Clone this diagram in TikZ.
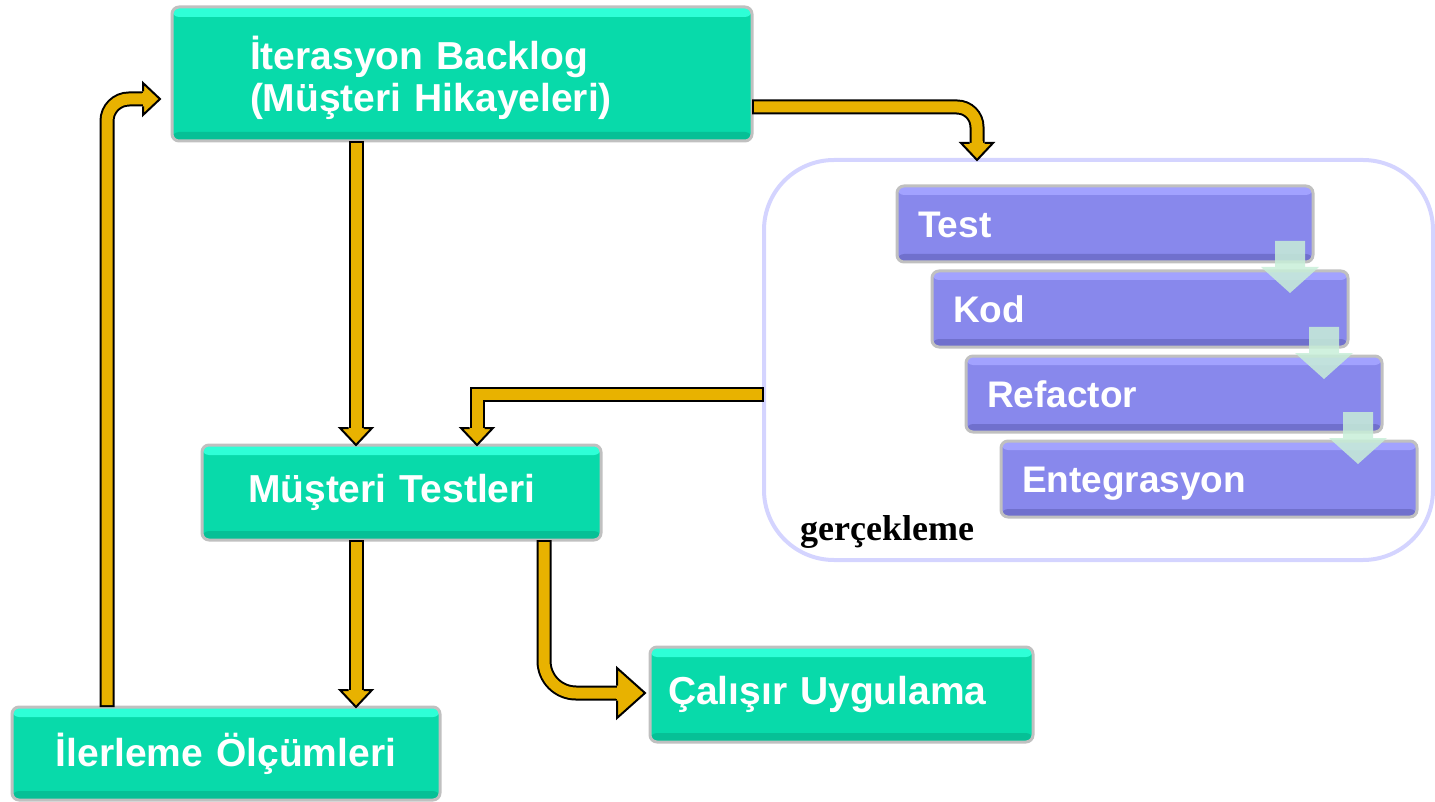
\documentclass[tikz,border=0pt]{standalone}
\usepackage{fontspec}
\setmainfont{Liberation Sans}
\newfontfamily\gserif{Liberation Serif}
\definecolor{tealmain}{RGB}{8,218,170}
\definecolor{tealtop}{RGB}{46,255,215}
\definecolor{tealbot}{RGB}{6,192,150}
\definecolor{purmain}{RGB}{136,136,236}
\definecolor{purtop}{RGB}{162,162,255}
\definecolor{purbot}{RGB}{112,112,205}
\definecolor{rimgray}{RGB}{192,192,192}
\definecolor{lav}{RGB}{212,212,255}
\definecolor{gold}{RGB}{232,178,0}
\definecolor{mint}{RGB}{200,238,216}
\tikzset{
  boxbase/.style={draw=rimgray, line width=3pt, rounded corners=7pt, anchor=north west,
    outer sep=0pt, inner ysep=0pt, text=white},
  tealbox/.style={boxbase, fill=tealmain, font=\bfseries\fontsize{39}{42}\selectfont,
    path picture={
      \fill[tealtop] (path picture bounding box.north west) rectangle ([yshift=-10pt]path picture bounding box.north east);
      \fill[tealbot] ([yshift=9pt]path picture bounding box.south west) rectangle (path picture bounding box.south east);}},
  purbox/.style={boxbase, fill=purmain, font=\bfseries\fontsize{37}{40}\selectfont,
    minimum width=416pt, minimum height=76pt, text width=374pt, inner xsep=21pt, align=left,
    text height=27pt, text depth=0pt,
    path picture={
      \fill[purtop] (path picture bounding box.north west) rectangle ([yshift=-9pt]path picture bounding box.north east);
      \fill[purbot] ([yshift=8pt]path picture bounding box.south west) rectangle (path picture bounding box.south east);}},
  gshaft/.style={draw=black, line width=15pt, postaction={draw=gold, line width=11pt, shorten <=2pt}},
  pics/ghead/.style 2 args={code={
    \fill[gold] (0,-#1) -- (#2,0) -- (0,#1) -- cycle;
    \fill[gold] (-1.5,-5.5) rectangle (0.5,5.5);
    \draw[black, line width=2pt, line join=miter] (0,-7.5) -- (0,-#1) -- (#2,0) -- (0,#1) -- (0,7.5);
  }},
  pics/minta/.style={code={
    \fill[mint, opacity=0.85] (-15,0) -- (15,0) -- (15,26) -- (29,26) -- (0,52) -- (-29,26) -- (-15,26) -- cycle;
  }}
}
\begin{document}
\begin{tikzpicture}[x=1pt, y=-1pt]
\useasboundingbox (0,0) rectangle (1435,802);
% container
\node[draw=lav, line width=4pt, rounded corners=70pt, minimum width=669pt, minimum height=400pt,
  anchor=north west, outer sep=0pt] (gc) at (764,160) {};
\node[anchor=base west, inner sep=0pt, font=\gserif\bfseries\fontsize{36}{40}\selectfont] (gl) at (800,540) {gerçekleme};
% teal boxes
\node[tealbox, minimum width=580pt, minimum height=134pt, text width=424pt, inner xsep=78pt, align=left, text depth=42pt]
  (ib) at (172,7) {İterasyon Backlog\\(Müşteri Hikayeleri)};
\node[tealbox, minimum width=399pt, minimum height=95pt, text width=307pt, inner xsep=46pt, align=left]
  (mt) at (202,445) {Müşteri Testleri};
\node[tealbox, minimum width=428pt, minimum height=93pt, text width=398pt, inner xsep=15pt, align=center]
  (il) at (12,707) {İlerleme Ölçümleri};
\node[tealbox, minimum width=383pt, minimum height=95pt, text width=347pt, inner xsep=18pt, align=left]
  (cu) at (650,647) {Çalışır Uygulama};
% purple boxes
\node[purbox] (t1) at (897,186) {Test};
\node[purbox] (t2) at (932,271) {Kod};
\node[purbox] (t3) at (966,356) {Refactor};
\node[purbox] (t4) at (1001,441) {Entegrasyon};
\pic at ([xshift=-23pt,yshift=21pt]t1.south east) {minta};
\pic at ([xshift=-24pt,yshift=20pt]t2.south east) {minta};
\pic at ([xshift=-24pt,yshift=20pt]t3.south east) {minta};
% gold arrows
\coordinate (a1b) at ([xshift=154pt,yshift=17pt]mt.north west);
\draw[gshaft] ([xshift=184pt]ib.south west) -- (a1b);
\pic[rotate=-90] at (a1b) {ghead={16}{17}};
\coordinate (a2b) at ([xshift=275pt,yshift=17pt]mt.north west);
\draw[gshaft] ([yshift=-34pt]gc.west) -| (a2b);
\pic[rotate=-90] at (a2b) {ghead={16}{17}};
\coordinate (a3b) at ([xshift=344pt,yshift=17pt]il.north west);
\draw[gshaft] ([xshift=154pt]mt.south west) -- (a3b);
\pic[rotate=-90] at (a3b) {ghead={16}{17}};
\coordinate (a4b) at ([xshift=-33pt,yshift=-46pt]cu.north west);
\draw[gshaft, rounded corners=32pt] ([xshift=342pt]mt.south west) |- (a4b);
\pic at (a4b) {ghead={25}{28}};
\coordinate (a5b) at ([xshift=-29pt,yshift=-92pt]ib.north west);
\draw[gshaft, rounded corners=22pt] ([xshift=95pt]il.north west) |- (a5b);
\pic at (a5b) {ghead={16}{17}};
\coordinate (a6b) at ([xshift=213pt,yshift=17pt]gc.north west);
\draw[gshaft, rounded corners=20pt] ([yshift=-100pt]ib.north east) -| (a6b);
\pic[rotate=-90] at (a6b) {ghead={16}{17}};
\end{tikzpicture}
\end{document}
